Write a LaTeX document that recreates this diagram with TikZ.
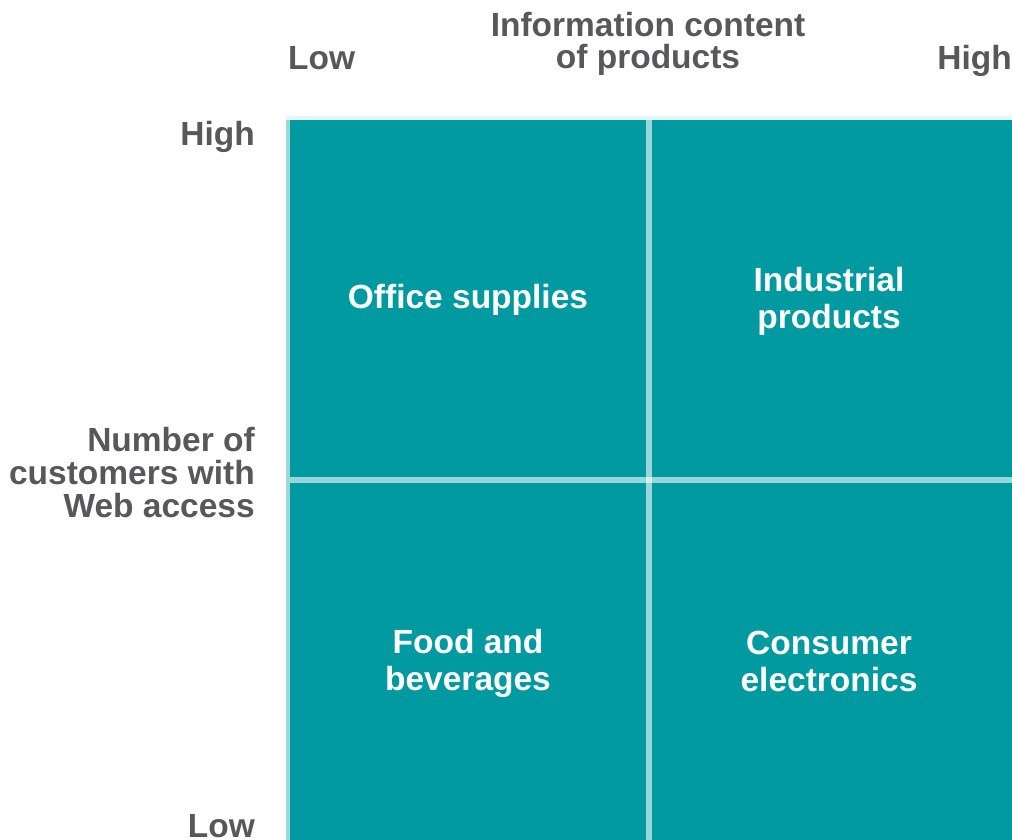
\documentclass[tikz,border=0pt]{standalone}
\usepackage{fontspec}
\setmainfont{Liberation Sans}
\definecolor{tealfill}{HTML}{009AA0}
\definecolor{labelgray}{HTML}{57585A}
\definecolor{edgeleft}{HTML}{9FD8DB}
\definecolor{edgetop}{HTML}{E6F5F6}
\begin{document}
\begin{tikzpicture}[x=1pt,y=-1pt,
  lbl/.style={font=\fontsize{33.5}{32}\selectfont\bfseries, text=labelgray, inner sep=0pt},
  celllbl/.style={font=\fontsize{33.5}{37}\selectfont\bfseries, text=white, inner sep=0pt, align=center, anchor=base},
  divider/.style={draw=white, draw opacity=0.6, line width=6pt}]
\useasboundingbox (0,0) rectangle (1012,840);
% grid background
\node[fill=tealfill, inner sep=0pt, outer sep=0pt, anchor=north west,
      minimum width=722pt, minimum height=720pt] (grid) at (290,120) {};
\fill[edgeleft] (286,120) rectangle (290,840);
\fill[edgetop] (286,116) rectangle (1012,120);
% dividers
\coordinate (vtop) at (649,120);
\coordinate (vbot) at (649,840);
\coordinate (hleft) at (290,480);
\coordinate (hright) at (1012,480);
\draw[divider] (vtop) -- (vbot);
\draw[divider] (hleft) -- (hright);
% axis labels (top)
\node[lbl, align=center, anchor=base] (xtitle) at (648,69) {Information content\\of products};
\node[lbl, anchor=base west] (xlow) at (288,70) {Low};
\node[lbl, anchor=base east] (xhigh) at (1012,70) {High};
% axis labels (left)
\node[lbl, anchor=base east] (yhigh) at (255,146) {High};
\node[lbl, align=right, anchor=base east, font=\fontsize{33.5}{33}\selectfont\bfseries] (ytitle) at (255,517) {Number of\\customers with\\Web access};
\node[lbl, anchor=base east, text depth=0pt] (ylow) at (255,837) {Low};
% cell labels
\node[celllbl] (office) at (468,308) {Office supplies};
\node[celllbl] (industrial) at (829,328) {Industrial\\products};
\node[celllbl] (food) at (468,690) {Food and\\beverages};
\node[celllbl] (consumer) at (829,691) {Consumer\\electronics};
\end{tikzpicture}
\end{document}
